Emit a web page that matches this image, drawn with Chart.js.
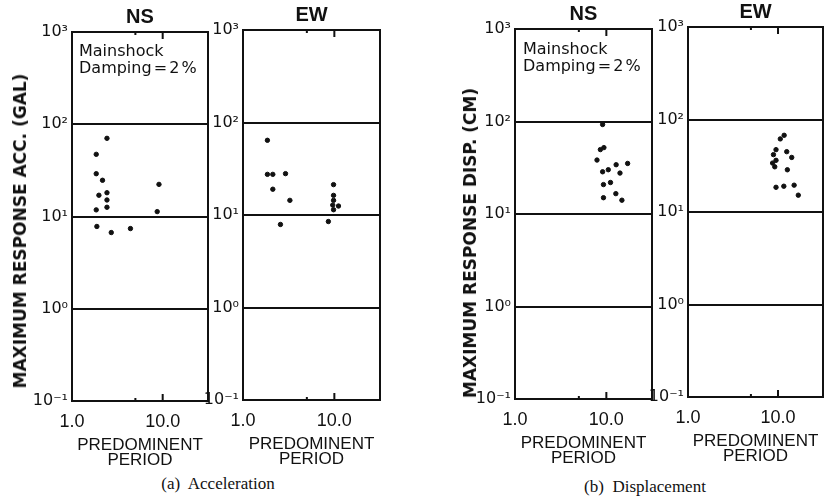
<!DOCTYPE html>
<html>
<head>
<meta charset="utf-8">
<script src="https://cdn.jsdelivr.net/npm/chart.js@4.4.1/dist/chart.umd.min.js"></script>
<style>
  html, body { margin: 0; padding: 0; background: #fff; overflow: hidden; }
  body { width: 825px; height: 498px; position: relative; }
  canvas { position: absolute; }
  .txt { position: absolute; color: #111; white-space: nowrap; }
  .vtitle { font: bold 17px "DejaVu Sans", sans-serif; transform: translate(-50%, -50%) rotate(-90deg); }
  .note { font: 16px "DejaVu Sans", sans-serif; line-height: 17px; word-spacing: -3px; }
  .caption { font: 17px "Liberation Serif", serif; transform: translate(-50%, -50%); }
</style>
</head>
<body>
<canvas id="accNS"></canvas>
<canvas id="accEW"></canvas>
<canvas id="dispNS"></canvas>
<canvas id="dispEW"></canvas>

<div class="txt vtitle" style="left:20px; top:231px;">MAXIMUM RESPONSE ACC. (GAL)</div>
<div class="txt vtitle" style="left:470px; top:243px;">MAXIMUM RESPONSE DISP. (CM)</div>
<div class="txt note" style="left:79px; top:42px;">Mainshock<br>Damping = 2 %</div>
<div class="txt note" style="left:523px; top:40px;">Mainshock<br>Damping = 2 %</div>
<div class="txt caption" style="left:218px; top:484px;">(a)&nbsp; Acceleration</div>
<div class="txt caption" style="left:645px; top:487px;">(b)&nbsp; Displacement</div>

<script>
// Valeurs (période prédominante, réponse maximale)
const accNSPeriod = [2.43, 1.85, 1.85, 2.17, 1.98, 2.43, 2.43, 2.43, 1.85, 9.1, 8.7, 1.88, 2.71, 4.41];
const accNSValue  = [70.4, 47.2, 29.1, 24.7, 17.0, 18.1, 15.1, 12.6, 11.8, 22.3, 11.3, 7.8, 6.7, 7.4];

const accEWPeriod = [1.85, 1.85, 2.12, 2.92, 2.12, 3.26, 9.8, 9.8, 9.8, 9.6, 11.1, 9.8, 2.57, 8.6];
const accEWValue  = [64.2, 27.5, 27.5, 28.0, 19.0, 14.4, 21.3, 16.3, 14.4, 12.8, 12.5, 11.4, 7.9, 8.5];

const dispNSPeriod = [9.1, 9.4, 8.6, 7.9, 12.8, 10.5, 9.1, 14.1, 11.1, 9.3, 12.7, 9.3, 14.8, 17.1];
const dispNSValue  = [92.8, 52.2, 49.7, 38.3, 34.1, 30.1, 28.6, 27.7, 21.9, 20.8, 16.6, 15.0, 14.1, 35.2];

const dispEWPeriod = [11.7, 10.6, 9.5, 12.5, 8.9, 14.2, 9.5, 8.7, 9.2, 12.7, 9.5, 11.6, 15.1, 16.8];
const dispEWValue  = [67.5, 61.7, 47.2, 44.9, 41.7, 38.9, 36.2, 33.8, 30.8, 28.6, 18.5, 19.0, 19.5, 15.2];

// Graduations
const yTicks = [0.1, 1, 10, 100, 1000];
const yTickLabels = ['10⁻¹', '10⁰', '10¹', '10²', '10³'];
const xTicks = [1, 10];
const xTickLabels = ['1.0', '10.0'];
const xMarks = [5, 10];  // petites graduations sur les bords haut et bas

const ink = '#111';

// Cadre + graduations intérieures
const framePlugin = {
    id: 'frame',
    afterDraw(chart) {
        const { ctx, chartArea: a, scales: { x } } = chart;
        ctx.save();
        ctx.strokeStyle = ink;
        ctx.lineWidth = 2;
        ctx.strokeRect(a.left, a.top, a.right - a.left, a.bottom - a.top);
        xMarks.forEach(v => {
            const px = x.getPixelForValue(v);
            const len = v === 10 ? 7 : 3;
            ctx.beginPath();
            ctx.moveTo(px, a.bottom); ctx.lineTo(px, a.bottom - len);
            ctx.moveTo(px, a.top); ctx.lineTo(px, a.top + len);
            ctx.stroke();
        });
        ctx.restore();
    }
};

// Fonction pour dessiner un panneau
function makePanel(id, title, periods, values, box) {
    const yW = 50, padR = 4, titleH = 27, xH = 67;
    const el = document.getElementById(id);
    el.width = yW + (box.R - box.L) + padR;
    el.height = titleH + (box.B - box.T) + xH;
    el.style.left = (box.L - yW) + 'px';
    el.style.top = (box.T - titleH) + 'px';

    new Chart(el, {
        type: 'scatter',
        data: {
            datasets: [{
                data: periods.map((p, i) => ({ x: p, y: values[i] })),
                backgroundColor: ink,
                borderColor: ink,
                pointRadius: 2.2,
                pointHoverRadius: 2.2
            }]
        },
        options: {
            responsive: false,
            animation: false,
            layout: { padding: { left: 0, right: padR, top: 0, bottom: 0 } },
            plugins: {
                legend: { display: false },
                tooltip: { enabled: false },
                title: {
                    display: true,
                    text: title,
                    color: ink,
                    fullSize: false,  // centré sur la zone du graphique
                    font: { family: 'Liberation Sans', size: 20, weight: 'bold', lineHeight: 1.2 },
                    padding: { top: 0, bottom: 3 }
                }
            },
            scales: {
                x: {
                    type: 'logarithmic',
                    min: 1,
                    max: 31.6,
                    afterBuildTicks: s => { s.ticks = xTicks.map(v => ({ value: v })); },
                    afterFit: s => { s.height = xH; },
                    ticks: {
                        color: ink,
                        padding: 2,
                        autoSkip: false,
                        maxRotation: 0,
                        font: { family: 'Liberation Sans', size: 18 },
                        callback: (v) => xTickLabels[xTicks.indexOf(v)]
                    },
                    grid: { display: false },
                    border: { display: false },
                    title: {
                        display: true,
                        text: ['PREDOMINENT', 'PERIOD'],
                        color: ink,
                        padding: 0,
                        font: { family: 'Liberation Sans', size: 17, lineHeight: 0.9 }
                    }
                },
                y: {
                    type: 'logarithmic',
                    min: 0.1,
                    max: 1000,
                    afterBuildTicks: s => { s.ticks = yTicks.map(v => ({ value: v })); },
                    afterFit: s => { s.width = yW; },
                    ticks: {
                        color: ink,
                        padding: 4,
                        font: { family: 'DejaVu Sans', size: 16 },
                        callback: (v) => yTickLabels[yTicks.indexOf(v)]
                    },
                    grid: { color: ink, lineWidth: 2, drawTicks: false },
                    border: { display: false }
                }
            }
        },
        plugins: [framePlugin]
    });
}

makePanel('accNS', 'NS', accNSPeriod, accNSValue, { L: 72, T: 32, R: 208, B: 401 });
makePanel('accEW', 'EW', accEWPeriod, accEWValue, { L: 243, T: 30, R: 380, B: 400 });
makePanel('dispNS', 'NS', dispNSPeriod, dispNSValue, { L: 515, T: 29, R: 652, B: 399 });
makePanel('dispEW', 'EW', dispEWPeriod, dispEWValue, { L: 688, T: 27, R: 823, B: 397 });
</script>
</body>
</html>
